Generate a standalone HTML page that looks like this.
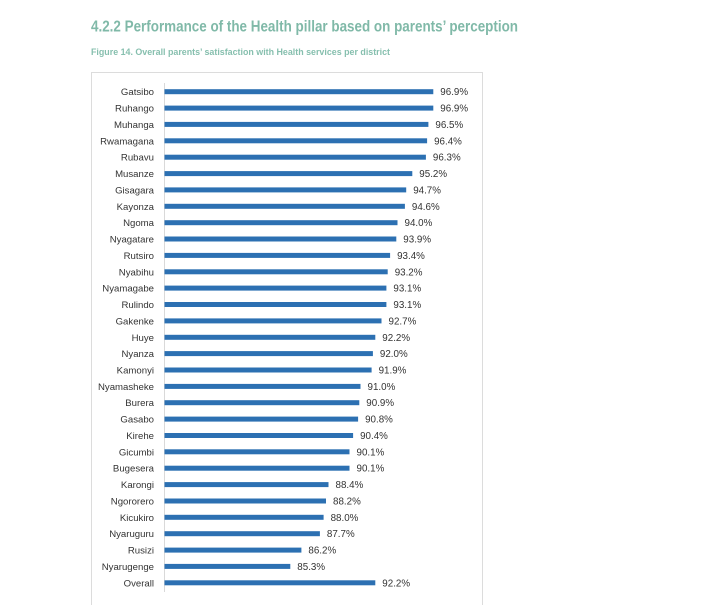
<!DOCTYPE html>
<html>
<head>
<meta charset="utf-8">
<style>
  html,body{margin:0;padding:0;background:#fff;}
  svg{display:block;}
  .cat{font-family:"Liberation Sans",sans-serif;font-size:9.6px;fill:#333;text-anchor:end;}
  .val{font-family:"Liberation Sans",sans-serif;font-size:9.8px;fill:#333;}
  .bar{fill:#2c70b2;}
</style>
</head>
<body>
<svg width="720" height="605" viewBox="0 0 720 605" xmlns="http://www.w3.org/2000/svg">
  <rect x="0" y="0" width="720" height="605" fill="#fff"/>
  <text x="91" y="31.5" font-family="Liberation Sans, sans-serif" font-size="15.5" font-weight="bold" fill="#80b9a8" textLength="427" lengthAdjust="spacingAndGlyphs">4.2.2 Performance of the Health pillar based on parents’ perception</text>
  <text x="91" y="55" font-family="Liberation Sans, sans-serif" font-size="9.3" font-weight="bold" fill="#86bfae" textLength="299" lengthAdjust="spacingAndGlyphs">Figure 14. Overall parents’ satisfaction with Health services per district</text>

  <rect x="91.5" y="72.5" width="391" height="545" fill="#fff" stroke="#dcdcdc" stroke-width="1"/>
  <line x1="164.5" y1="83" x2="164.5" y2="592" stroke="#d9d9d9" stroke-width="1"/>

  <g>
    <text class="cat" x="154" y="95.2">Gatsibo</text>
    <rect class="bar" x="164.5" y="89.2" width="268.8" height="5"/>
    <text class="val" x="440.3" y="95.2">96.9%</text>

    <text class="cat" x="154" y="111.6">Ruhango</text>
    <rect class="bar" x="164.5" y="105.6" width="268.8" height="5"/>
    <text class="val" x="440.3" y="111.6">96.9%</text>

    <text class="cat" x="154" y="127.9">Muhanga</text>
    <rect class="bar" x="164.5" y="121.9" width="263.9" height="5"/>
    <text class="val" x="435.4" y="127.9">96.5%</text>

    <text class="cat" x="154" y="144.3">Rwamagana</text>
    <rect class="bar" x="164.5" y="138.3" width="262.6" height="5"/>
    <text class="val" x="434.1" y="144.3">96.4%</text>

    <text class="cat" x="154" y="160.7">Rubavu</text>
    <rect class="bar" x="164.5" y="154.7" width="261.4" height="5"/>
    <text class="val" x="432.9" y="160.7">96.3%</text>

    <text class="cat" x="154" y="177.1">Musanze</text>
    <rect class="bar" x="164.5" y="171.1" width="247.8" height="5"/>
    <text class="val" x="419.3" y="177.1">95.2%</text>

    <text class="cat" x="154" y="193.4">Gisagara</text>
    <rect class="bar" x="164.5" y="187.4" width="241.7" height="5"/>
    <text class="val" x="413.2" y="193.4">94.7%</text>

    <text class="cat" x="154" y="209.8">Kayonza</text>
    <rect class="bar" x="164.5" y="203.8" width="240.4" height="5"/>
    <text class="val" x="411.9" y="209.8">94.6%</text>

    <text class="cat" x="154" y="226.2">Ngoma</text>
    <rect class="bar" x="164.5" y="220.2" width="233.0" height="5"/>
    <text class="val" x="404.5" y="226.2">94.0%</text>

    <text class="cat" x="154" y="242.5">Nyagatare</text>
    <rect class="bar" x="164.5" y="236.5" width="231.8" height="5"/>
    <text class="val" x="403.3" y="242.5">93.9%</text>

    <text class="cat" x="154" y="258.9">Rutsiro</text>
    <rect class="bar" x="164.5" y="252.9" width="225.6" height="5"/>
    <text class="val" x="397.1" y="258.9">93.4%</text>

    <text class="cat" x="154" y="275.3">Nyabihu</text>
    <rect class="bar" x="164.5" y="269.3" width="223.2" height="5"/>
    <text class="val" x="394.7" y="275.3">93.2%</text>

    <text class="cat" x="154" y="291.6">Nyamagabe</text>
    <rect class="bar" x="164.5" y="285.6" width="221.9" height="5"/>
    <text class="val" x="393.4" y="291.6">93.1%</text>

    <text class="cat" x="154" y="308.0">Rulindo</text>
    <rect class="bar" x="164.5" y="302.0" width="221.9" height="5"/>
    <text class="val" x="393.4" y="308.0">93.1%</text>

    <text class="cat" x="154" y="324.4">Gakenke</text>
    <rect class="bar" x="164.5" y="318.4" width="217.0" height="5"/>
    <text class="val" x="388.5" y="324.4">92.7%</text>

    <text class="cat" x="154" y="340.8">Huye</text>
    <rect class="bar" x="164.5" y="334.8" width="210.8" height="5"/>
    <text class="val" x="382.3" y="340.8">92.2%</text>

    <text class="cat" x="154" y="357.1">Nyanza</text>
    <rect class="bar" x="164.5" y="351.1" width="208.4" height="5"/>
    <text class="val" x="379.9" y="357.1">92.0%</text>

    <text class="cat" x="154" y="373.5">Kamonyi</text>
    <rect class="bar" x="164.5" y="367.5" width="207.1" height="5"/>
    <text class="val" x="378.6" y="373.5">91.9%</text>

    <text class="cat" x="154" y="389.9">Nyamasheke</text>
    <rect class="bar" x="164.5" y="383.9" width="196.0" height="5"/>
    <text class="val" x="367.5" y="389.9">91.0%</text>

    <text class="cat" x="154" y="406.2">Burera</text>
    <rect class="bar" x="164.5" y="400.2" width="194.8" height="5"/>
    <text class="val" x="366.3" y="406.2">90.9%</text>

    <text class="cat" x="154" y="422.6">Gasabo</text>
    <rect class="bar" x="164.5" y="416.6" width="193.6" height="5"/>
    <text class="val" x="365.1" y="422.6">90.8%</text>

    <text class="cat" x="154" y="439.0">Kirehe</text>
    <rect class="bar" x="164.5" y="433.0" width="188.6" height="5"/>
    <text class="val" x="360.1" y="439.0">90.4%</text>

    <text class="cat" x="154" y="455.3">Gicumbi</text>
    <rect class="bar" x="164.5" y="449.3" width="185.0" height="5"/>
    <text class="val" x="356.5" y="455.3">90.1%</text>

    <text class="cat" x="154" y="471.7">Bugesera</text>
    <rect class="bar" x="164.5" y="465.7" width="185.0" height="5"/>
    <text class="val" x="356.5" y="471.7">90.1%</text>

    <text class="cat" x="154" y="488.1">Karongi</text>
    <rect class="bar" x="164.5" y="482.1" width="164.0" height="5"/>
    <text class="val" x="335.5" y="488.1">88.4%</text>

    <text class="cat" x="154" y="504.5">Ngororero</text>
    <rect class="bar" x="164.5" y="498.5" width="161.5" height="5"/>
    <text class="val" x="333.0" y="504.5">88.2%</text>

    <text class="cat" x="154" y="520.8">Kicukiro</text>
    <rect class="bar" x="164.5" y="514.8" width="159.1" height="5"/>
    <text class="val" x="330.6" y="520.8">88.0%</text>

    <text class="cat" x="154" y="537.2">Nyaruguru</text>
    <rect class="bar" x="164.5" y="531.2" width="155.4" height="5"/>
    <text class="val" x="326.9" y="537.2">87.7%</text>

    <text class="cat" x="154" y="553.6">Rusizi</text>
    <rect class="bar" x="164.5" y="547.6" width="136.9" height="5"/>
    <text class="val" x="308.4" y="553.6">86.2%</text>

    <text class="cat" x="154" y="569.9">Nyarugenge</text>
    <rect class="bar" x="164.5" y="563.9" width="125.8" height="5"/>
    <text class="val" x="297.3" y="569.9">85.3%</text>

    <text class="cat" x="154" y="586.3">Overall</text>
    <rect class="bar" x="164.5" y="580.3" width="210.8" height="5"/>
    <text class="val" x="382.3" y="586.3">92.2%</text>
  </g>
</svg>
</body>
</html>
